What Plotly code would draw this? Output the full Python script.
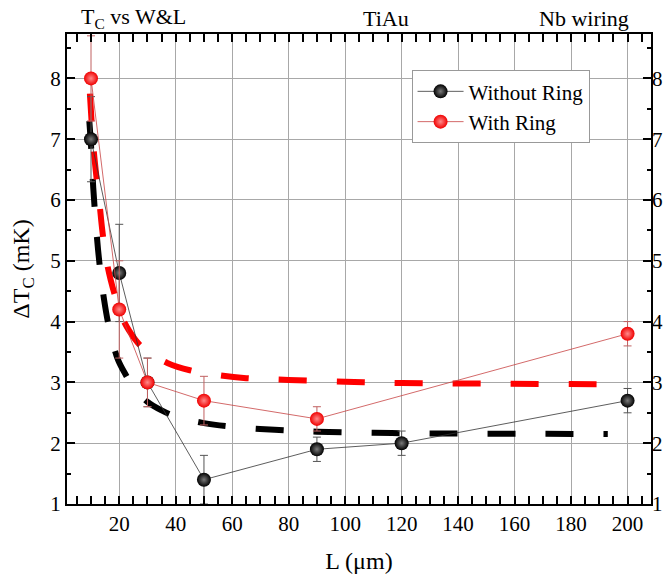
import plotly.graph_objects as go

# Measured transition-temperature shift versus bar length
L_without = [10, 20, 30, 50, 90, 120, 200]
dTc_without = [7.0, 4.8, 3.0, 1.4, 1.9, 2.0, 2.7]
err_without = [0.7, 0.8, 0.4, 0.4, 0.2, 0.2, 0.2]

L_with = [10, 20, 30, 50, 90, 200]
dTc_with = [8.0, 4.2, 3.0, 2.7, 2.4, 3.8]
err_with = [0.7, 0.8, 0.4, 0.4, 0.2, 0.2]

# Fitted trend curves
fit_without_L = [9.4, 10, 10.8, 11.6, 12.5, 13.5, 14.6, 16, 17.5, 19.5, 22, 25, 30,
                 35, 40, 50, 60, 75, 90, 110, 130, 160, 193]
fit_without_T = [7.3, 6.9, 6.2, 5.68, 5.18, 4.75, 4.37, 3.99, 3.69, 3.38, 3.15, 2.92,
                 2.68, 2.54, 2.44, 2.33, 2.27, 2.22, 2.19, 2.17, 2.16, 2.155, 2.15]

fit_with_L = [9.6, 10.2, 11, 12, 13, 14, 15.5, 17, 19, 21, 23.5, 27, 32, 37, 45, 55,
              65, 80, 100, 120, 150, 193]
fit_with_T = [7.75, 7.3, 6.8, 6.35, 5.95, 5.5, 5.0, 4.68, 4.35, 4.07, 3.85, 3.63,
              3.45, 3.32, 3.2, 3.12, 3.07, 3.04, 3.01, 2.99, 2.98, 2.97]

x_range = [1.5, 208.3]
y_range = [1, 8.73]

FONT = "Liberation Serif, Times New Roman, serif"

fig = go.Figure()

fig.add_trace(go.Scatter(
    x=fit_without_L, y=fit_without_T, mode="lines", showlegend=False,
    line=dict(color="black", width=6, dash="28px,30px", shape="spline"),
    hoverinfo="skip"))
fig.add_trace(go.Scatter(
    x=fit_with_L, y=fit_with_T, mode="lines", showlegend=False,
    line=dict(color="#ff0000", width=6, dash="28px,30px", shape="spline"),
    hoverinfo="skip"))

fig.add_trace(go.Scatter(
    x=L_without, y=dTc_without, mode="lines+markers", name="Without Ring",
    line=dict(color="#333333", width=0.8),
    marker=dict(size=14, color="black",
                gradient=dict(type="radial", color="#7a7a7a"),
                line=dict(width=0)),
    error_y=dict(type="data", array=err_without, visible=True,
                 color="#555555", thickness=1, width=4)))
fig.add_trace(go.Scatter(
    x=L_with, y=dTc_with, mode="lines+markers", name="With Ring",
    line=dict(color="#c84444", width=0.8),
    marker=dict(size=14, color="#f00000",
                gradient=dict(type="radial", color="#ff8a8a"),
                line=dict(width=0)),
    error_y=dict(type="data", array=err_with, visible=True,
                 color="#c06060", thickness=1, width=4)))

# empty trace so the right-hand value axis is rendered
fig.add_trace(go.Scatter(x=[None], y=[None], yaxis="y2", showlegend=False,
                         hoverinfo="skip", mode="markers"))

axis_common = dict(
    showline=True, linecolor="black", linewidth=2,
    ticks="inside", ticklen=8, tickwidth=1.5, tickcolor="black",
    showgrid=True, gridcolor="#a8a8a8", gridwidth=1,
    zeroline=False, automargin=False,
    tickfont=dict(family=FONT, size=21, color="black"),
)

fig.update_layout(
    width=672, height=583,
    margin=dict(l=66.5, r=20.5, t=34, b=79),
    paper_bgcolor="white", plot_bgcolor="white",
    font=dict(family=FONT, color="black"),
    xaxis=dict(
        **axis_common, range=x_range, dtick=20, tick0=0, mirror="allticks",
        minor=dict(dtick=5, tick0=0, ticks="inside", ticklen=4, tickwidth=1.5,
                   tickcolor="black", showgrid=False),
        title=dict(text="L (\u03bcm)", font=dict(family=FONT, size=24), standoff=17),
    ),
    yaxis=dict(
        **axis_common, range=y_range, dtick=1, tick0=0, mirror="allticks",
        minor=dict(dtick=0.5, tick0=0, ticks="inside", ticklen=4, tickwidth=1.5,
                   tickcolor="black", showgrid=False),
        title=dict(text="\u0394T<sub>C</sub> (mK)", font=dict(family=FONT, size=24),
                   standoff=14),
    ),
    yaxis2=dict(
        overlaying="y", side="right", range=y_range, dtick=1, tick0=0,
        showgrid=False, showline=False, zeroline=False, ticks="",
        automargin=False,
        tickfont=dict(family=FONT, size=21, color="black"),
    ),
    legend=dict(
        x=0.59, y=0.923, xanchor="left", yanchor="top",
        bgcolor="white", bordercolor="#999999", borderwidth=1,
        font=dict(family=FONT, size=21, color="black"),
        itemwidth=46, tracegroupgap=0,
    ),
    showlegend=True,
)

title_font = dict(family=FONT, size=22, color="black")
fig.add_annotation(text="T<sub>C</sub> vs W&L", x=0.021, y=1.033, xref="paper",
                   yref="paper", xanchor="left", yanchor="middle",
                   showarrow=False, font=title_font)
fig.add_annotation(text="TiAu", x=0.547, y=1.033, xref="paper", yref="paper",
                   xanchor="center", yanchor="middle", showarrow=False,
                   font=title_font)
fig.add_annotation(text="Nb wiring", x=0.965, y=1.033, xref="paper", yref="paper",
                   xanchor="right", yanchor="middle", showarrow=False,
                   font=title_font)

fig.write_html("out.html")
